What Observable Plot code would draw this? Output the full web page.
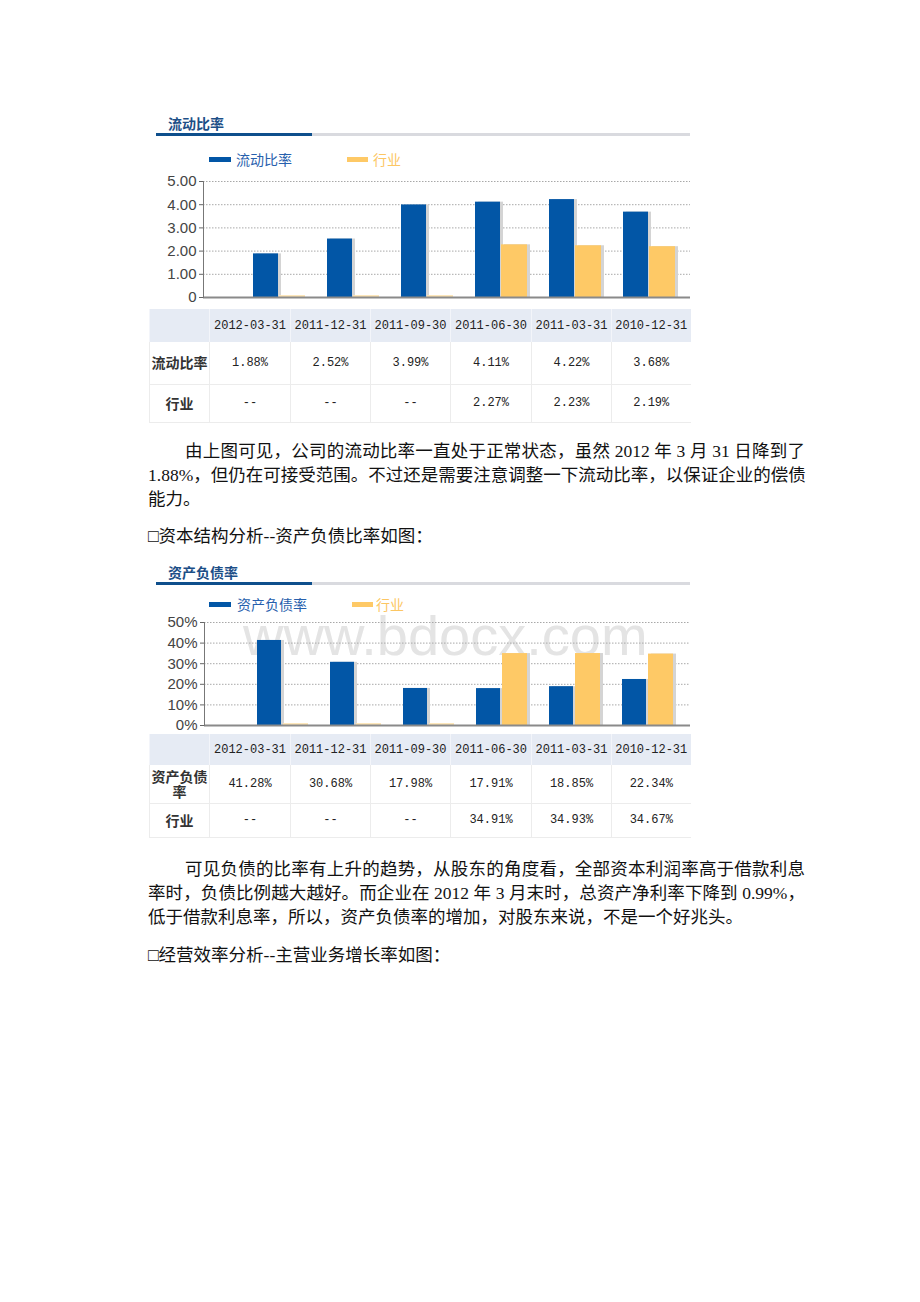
<!DOCTYPE html>
<html><head><meta charset="utf-8">
<script src="https://cdn.jsdelivr.net/npm/d3@7"></script>
<script src="https://cdn.jsdelivr.net/npm/@observablehq/plot@0.6"></script>
<style>
body{margin:0;background:#fff;}
#page{position:relative;width:920px;height:1302px;overflow:hidden;background:#fff;}
.para{position:absolute;font-family:"Liberation Serif","Noto Sans CJK SC",serif;font-size:17.5px;line-height:24px;color:#111;white-space:nowrap;}
.just{text-align:justify;text-align-last:justify;}
.title{position:absolute;font-family:"Noto Sans CJK SC",sans-serif;font-weight:bold;font-size:14px;line-height:18px;color:#1d4f87;}
.bar{position:absolute;height:3px;}
.leg-sw{position:absolute;height:5px;}
.leg-tx{position:absolute;font-family:"Noto Sans CJK SC",sans-serif;font-size:14px;line-height:18px;}
.chart{position:absolute;}
.wm{position:absolute;font-family:"Liberation Sans",Arial,sans-serif;font-size:56px;color:#e4e4e4;line-height:44px;white-space:nowrap;}
table.dt{position:absolute;border-collapse:collapse;table-layout:fixed;font-family:"Liberation Mono",monospace;font-size:12px;color:#222;}
table.dt td{padding:0;text-align:center;vertical-align:middle;}
table.dt tr.hd td{background:#e6ebf4;border-left:1px solid #f3f5fa;}
table.dt tr.bd td{border-left:1px solid #ececec;border-bottom:1px solid #ececec;}
table.dt td.lab{font-family:"Noto Sans CJK SC",sans-serif;font-weight:bold;font-size:14px;color:#333;line-height:15px;border-left:none;}
</style>
</head><body>
<div id="page"></div>
<script>
// ---- data ----
const dates = ["2012-03-31","2011-12-31","2011-09-30","2011-06-30","2011-03-31","2010-12-31"];
const currentRatio = [1.88, 2.52, 3.99, 4.11, 4.22, 3.68];
const industryCurrent = [null, null, null, 2.27, 2.23, 2.19];
const debtRatio = [41.28, 30.68, 17.98, 17.91, 18.85, 22.34];
const industryDebt = [null, null, null, 34.91, 34.93, 34.67];
// height of the sliver drawn where industry has no data
const noDataCurrent = 0.08;
const noDataDebt = 0.9;
const ticksCurrent = [0, 1, 2, 3, 4, 5];
const ticksDebt = [0, 10, 20, 30, 40, 50];
const seriesNames1 = ["流动比率", "行业"];
const seriesNames2 = ["资产负债率", "行业"];

const page = document.getElementById("page");
function el(tag, cls, style, text) {
  const e = document.createElement(tag);
  if (cls) e.className = cls;
  Object.assign(e.style, style || {});
  if (text != null) e.textContent = text;
  page.appendChild(e);
  return e;
}

const BLUE = "#0256a6", ORANGE = "#fec966", PALE = "#fde3b0";

function header(title, top, legendY, names, legPos) {
  el("div", "title", {left: "168px", top: (top - 9) + "px"}, title);
  el("div", "bar", {left: "156px", top: (top + 10) + "px", width: "156px", background: "#0e4f8c"});
  el("div", "bar", {left: "312px", top: (top + 10) + "px", width: "378px", background: "#d9dadf"});
  el("div", "leg-sw", {left: legPos[0] + "px", top: (legendY - 2) + "px", width: "22px", background: BLUE});
  el("div", "leg-tx", {left: legPos[1] + "px", top: (legendY - 9) + "px", color: "#2760ad"}, names[0]);
  el("div", "leg-sw", {left: legPos[2] + "px", top: (legendY - 2) + "px", width: "21px", background: ORANGE});
  el("div", "leg-tx", {left: legPos[3] + "px", top: (legendY - 9) + "px", color: "#fcc663"}, names[1]);
}

function chart({values, industry, noData, ticks, fmt, top, marginLeft, height}) {
  const main = dates.map((d, i) => ({date: d, value: values[i]}));
  const ind = dates.map((d, i) => ({date: d, value: industry[i] ?? noData, missing: industry[i] == null}));
  const plot = Plot.plot({
    width: 550, height, marginTop: 9, marginBottom: 8, marginLeft, marginRight: 5,
    style: {background: "transparent", fontFamily: "Liberation Sans, Arial, sans-serif", fontSize: "15px", color: "#444", overflow: "visible"},
    x: {domain: dates, padding: 0, insetLeft: 40, insetRight: 3, axis: null},
    y: {domain: [ticks[0], ticks[ticks.length - 1]], axis: null, label: null},
    marks: [
      Plot.ruleY(ticks.slice(1), {stroke: "#a8a8a8", strokeDasharray: "1.5,1.5"}),
      Plot.barY(main, {x: "date", y: "value", insetLeft: 11, insetRight: 38, dx: 2, fill: "#d4d4d4"}),
      Plot.barY(main, {x: "date", y: "value", insetLeft: 10, insetRight: 39, fill: BLUE}),
      Plot.barY(ind.filter(d => !d.missing), {x: "date", y: "value", insetLeft: 37, insetRight: 11, dx: 2, fill: "#d4d4d4"}),
      Plot.barY(ind.filter(d => !d.missing), {x: "date", y: "value", insetLeft: 36, insetRight: 12, fill: ORANGE}),
      Plot.barY(ind.filter(d => d.missing), {x: "date", y: "value", insetLeft: 36, insetRight: 12, fill: PALE}),
      Plot.ruleY([ticks[0]], {stroke: "#8a8a8a", strokeWidth: 2}),
      Plot.axisY({ticks, tickFormat: fmt, tickSize: 4, tickPadding: 3, stroke: "#666", label: null}),
      Plot.frame({anchor: "left", stroke: "#777"})
    ]
  });
  plot.classList.add("chart");
  plot.style.left = "145px";
  plot.style.top = top + "px";
  page.appendChild(plot);
}

function table({top, label, values, industry, fmt, rowH}) {
  const t = document.createElement("table");
  t.className = "dt";
  t.style.left = "149px";
  t.style.top = top + "px";
  t.style.width = "541px";
  const cg = document.createElement("colgroup");
  [60, 81, 80, 80, 81, 80, 79].forEach(w => { const c = document.createElement("col"); c.style.width = w + "px"; cg.appendChild(c); });
  t.appendChild(cg);
  const mk = (cls, h, cells) => {
    const tr = document.createElement("tr");
    tr.className = cls;
    tr.style.height = h + "px";
    cells.forEach(([txt, c]) => { const td = document.createElement("td"); td.textContent = txt; if (c) td.className = c; tr.appendChild(td); });
    t.appendChild(tr);
  };
  mk("hd", rowH[0], [["", "lab"], ...dates.map(d => [d])]);
  mk("bd", rowH[1], [[label, "lab"], ...values.map(v => [fmt(v), "val"])]);
  mk("bd", rowH[2], [["行业", "lab"], ...industry.map(v => [v == null ? "--" : fmt(v), "val"])]);
  page.appendChild(t);
}

// ---- first chart ----
header("流动比率", 123, 159, seriesNames1, [209, 236, 347, 373]);
chart({values: currentRatio, industry: industryCurrent, noData: noDataCurrent, ticks: ticksCurrent,
  fmt: d => d === 0 ? "0" : d.toFixed(2), top: 172, marginLeft: 58, height: 133});
table({top: 309, label: "流动比率", values: currentRatio, industry: industryCurrent, fmt: v => v.toFixed(2) + "%", rowH: [33, 42, 38]});

// ---- text ----
el("div", "para just", {left: "185px", top: "439px", width: "620px"}, "由上图可见，公司的流动比率一直处于正常状态，虽然 2012 年 3 月 31 日降到了");
el("div", "para just", {left: "148px", top: "463px", width: "657px"}, "1.88%，但仍在可接受范围。不过还是需要注意调整一下流动比率，以保证企业的偿债");
el("div", "para", {left: "148px", top: "487px"}, "能力。");
el("div", "para", {left: "148px", top: "524px"}, "□资本结构分析--资产负债比率如图：");

// ---- second chart ----
el("div", "wm", {left: "243px", top: "614px"}, "www.bdocx.com");
header("资产负债率", 572, 604, seriesNames2, [209, 237, 352, 376]);
chart({values: debtRatio, industry: industryDebt, noData: noDataDebt, ticks: ticksDebt,
  fmt: d => d + "%", top: 613, marginLeft: 59, height: 120});
table({top: 734, label: "资产负债率", values: debtRatio, industry: industryDebt, fmt: v => v.toFixed(2) + "%", rowH: [31, 38, 34]});

el("div", "para just", {left: "185px", top: "857px", width: "620px"}, "可见负债的比率有上升的趋势，从股东的角度看，全部资本利润率高于借款利息");
el("div", "para just", {left: "148px", top: "881px", width: "657px"}, "率时，负债比例越大越好。而企业在 2012 年 3 月末时，总资产净利率下降到 0.99%，");
el("div", "para", {left: "148px", top: "905px"}, "低于借款利息率，所以，资产负债率的增加，对股东来说，不是一个好兆头。");
el("div", "para", {left: "148px", top: "943px"}, "□经营效率分析--主营业务增长率如图：");
</script>
</body></html>
